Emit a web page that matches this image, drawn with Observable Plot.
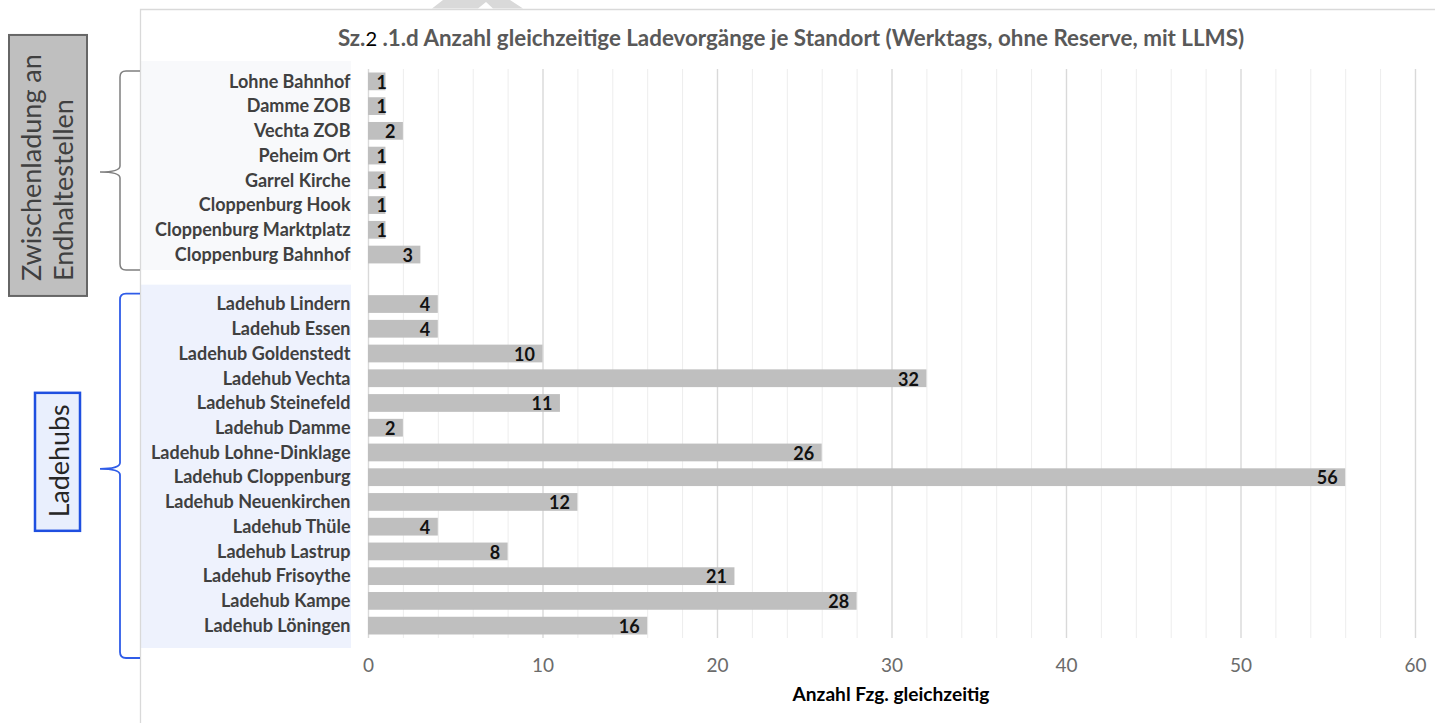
<!DOCTYPE html>
<html><head><meta charset="utf-8">
<script src="https://cdn.jsdelivr.net/npm/d3@7"></script>
<script src="https://cdn.jsdelivr.net/npm/@observablehq/plot@0.6"></script>
<style>
html,body{margin:0;padding:0;background:#fff;}
#chart{position:relative;width:1435px;height:723px;overflow:hidden;}
</style></head><body><div id="chart"></div>
<script>
// ---- data ----
const titlePrefix = "Sz.";
const titleNumber = "2";
const titleRest = " .1.d Anzahl gleichzeitige Ladevorgänge je Standort (Werktags, ohne Reserve, mit LLMS)";
const xTitle = "Anzahl Fzg. gleichzeitig";
const groupLabels = [["Zwischenladung an", "Endhaltestellen"], ["Ladehubs"]];
const endstellen = ["Lohne Bahnhof","Damme ZOB","Vechta ZOB","Peheim Ort","Garrel Kirche","Cloppenburg Hook","Cloppenburg Marktplatz","Cloppenburg Bahnhof"];
const endstellenValues = [1,1,2,1,1,1,1,3];
const ladehubs = ["Ladehub Lindern","Ladehub Essen","Ladehub Goldenstedt","Ladehub Vechta","Ladehub Steinefeld","Ladehub Damme","Ladehub Lohne-Dinklage","Ladehub Cloppenburg","Ladehub Neuenkirchen","Ladehub Thüle","Ladehub Lastrup","Ladehub Frisoythe","Ladehub Kampe","Ladehub Löningen"];
const ladehubValues = [4,4,10,32,11,2,26,56,12,4,8,21,28,16];
const xTicks = [0,10,20,30,40,50,60];

// ---- build ----
const GAP = "\u2007";
const domain = [...endstellen, GAP, ...ladehubs];
const rows = [
  ...endstellen.map((n,i)=>({name:n, value:endstellenValues[i], group:0})),
  ...ladehubs.map((n,i)=>({name:n, value:ladehubValues[i], group:1}))
];
const minorTicks = d3.range(0, 61, 2).filter(d => d % 10 !== 0);
const FONT = "Lato, 'Open Sans', sans-serif";

const plot = Plot.plot({
  width:1435, height:723,
  marginLeft:368, marginRight:20, marginTop:69, marginBottom:85,
  style:{fontFamily:FONT, background:"transparent", overflow:"visible"},
  x:{domain:[0,60]},
  y:{domain, padding:0, round:false},
  marks:[
    Plot.ruleX(minorTicks, {stroke:"#ededed", strokeWidth:1}),
    Plot.ruleX(xTicks, {stroke:"#d9d9d9", strokeWidth:1.4}),
    Plot.barX(rows, {x:"value", y:"name", fill:"#BFBFBF", insetTop:3.5, insetBottom:3.5}),
    Plot.text(rows.filter(d=>d.value>=2), {x:"value", y:"name", text:d=>String(d.value), textAnchor:"end", dx:-8, dy:1, fontSize:18, fontWeight:"bold", fill:"#111"}),
    Plot.text(rows.filter(d=>d.value<2), {x:0, y:"name", text:d=>String(d.value), textAnchor:"start", dx:8, dy:1, fontSize:18, fontWeight:"bold", fill:"#111"}),
    Plot.axisY({tickSize:0, tickPadding:18, fontSize:18, fontWeight:"bold", color:"#404040", tickFormat:d => d===GAP ? "" : d, label:null}),
    Plot.axisX({ticks:xTicks, tickSize:0, tickPadding:20, fontSize:19, color:"#6b6b6b", label:null})
  ]
});
document.getElementById("chart").appendChild(plot);

const svg = d3.select(plot);
const xs = plot.scale("x"), ys = plot.scale("y");
const bw = ys.bandwidth;
const top0 = ys.apply(endstellen[0]), bot0 = ys.apply(endstellen[endstellen.length-1]) + bw;
const top1 = ys.apply(ladehubs[0]), bot1 = ys.apply(ladehubs[ladehubs.length-1]) + bw;

function fit(sel, target){
  const node = sel.node();
  const w = node.getComputedTextLength ? node.getComputedTextLength() : node.getBBox().width;
  const fs = parseFloat(sel.attr("font-size"));
  if (w > 0) sel.attr("font-size", fs * target / w);
}

// decorations behind the plot
const back = svg.insert("g", ":first-child");
back.append("rect").attr("x",141).attr("y",top0-8).attr("width",210).attr("height",bot0-top0+11).attr("fill","#f8f9fb");
back.append("rect").attr("x",141).attr("y",top1-7).attr("width",210).attr("height",bot1-top1+17).attr("fill","#eef2fd");
back.append("path").attr("d",`M140.5,723 V9.5 H1435`).attr("fill","none").attr("stroke","#d9d9d9").attr("stroke-width",1.3);
back.append("path").attr("d","M432,8.5 L443,0 L510,0 L523,8.5 L493,8.5 L486,2 L478,8.5 Z").attr("fill","#d9d9d9");

// title
const t = svg.append("text").attr("x",791).attr("y",46).attr("text-anchor","middle")
  .attr("font-family",FONT).attr("font-size",22).attr("font-weight","bold").attr("fill","#595959");
t.append("tspan").text(titlePrefix);
t.append("tspan").attr("font-weight","normal").attr("fill","#000").attr("font-size","0.9em").text(titleNumber);
t.append("tspan").text(titleRest);
fit(t, 907);

// x axis title
const xt = svg.append("text").attr("x",891).attr("y",701).attr("text-anchor","middle")
  .attr("font-family",FONT).attr("font-size",19).attr("font-weight","bold").attr("fill","#000").text(xTitle);
fit(xt, 197);

// braces
function brace(y0, y1, ym){
  const xr = 140, xv = 120, xt = 100;
  return `M${xr},${y0} L${xv+6},${y0} Q${xv},${y0} ${xv},${y0+6} L${xv},${ym-6} Q${xv},${ym} ${xt},${ym} Q${xv},${ym} ${xv},${ym+6} L${xv},${y1-6} Q${xv},${y1} ${xv+6},${y1} L${xr},${y1}`;
}
svg.append("path").attr("d",brace(top0+2,bot0+3,(top0+bot0)/2+4)).attr("fill","none").attr("stroke","#7f7f7f").attr("stroke-width",1.5);
svg.append("path").attr("d",brace(top1+2,bot1+20,(top1+bot1)/2+4)).attr("fill","none").attr("stroke","#2f5ce8").attr("stroke-width",1.8);

// group boxes
const m0 = (top0+bot0)/2 - 3, m1 = (top1+bot1)/2 - 3;
svg.append("rect").attr("x",9).attr("y",m0-130).attr("width",78).attr("height",261).attr("fill","#bfbfbf").attr("stroke","#666").attr("stroke-width",2);
svg.append("rect").attr("x",35).attr("y",m1-69).attr("width",45).attr("height",138).attr("fill","#e9effd").attr("stroke","#1f4fe0").attr("stroke-width",2.5);

const gA = svg.append("text").attr("transform","rotate(-90)").attr("text-anchor","start")
  .attr("font-family",FONT).attr("font-size",26).attr("fill","#404040")
  .attr("x",-(m0+116)).attr("y",41).text(groupLabels[0][0]);
fit(gA, 227);
const gB = svg.append("text").attr("transform","rotate(-90)").attr("text-anchor","start")
  .attr("font-family",FONT).attr("font-size",gA.attr("font-size")).attr("fill","#404040")
  .attr("x",-(m0+116)).attr("y",73).text(groupLabels[0][1]);
const gC = svg.append("text").attr("transform",`translate(69,${m1-1}) rotate(-90)`).attr("text-anchor","middle")
  .attr("font-family",FONT).attr("font-size",26).attr("fill","#262626").text(groupLabels[1][0]);
fit(gC, 113);
</script>
</body></html>
